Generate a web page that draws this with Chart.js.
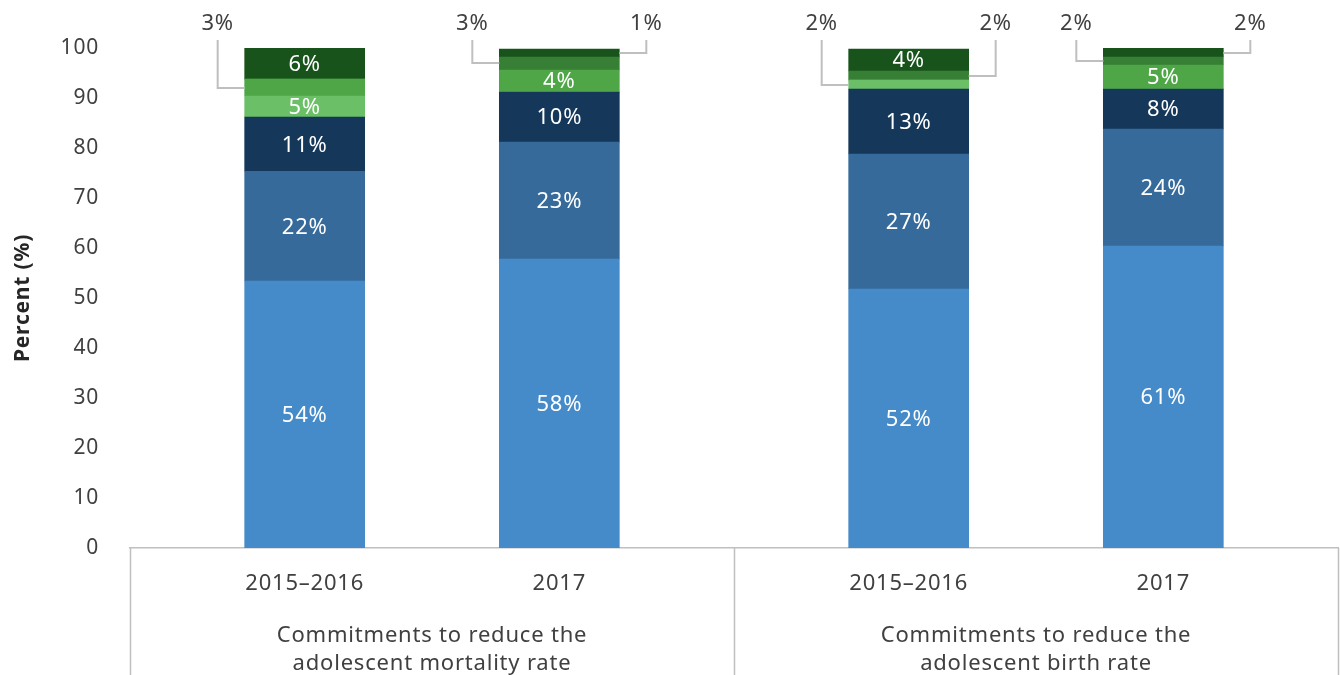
<!DOCTYPE html>
<html>
<head>
<meta charset="utf-8">
<title>Commitments by year</title>
<script src="https://cdn.jsdelivr.net/npm/chart.js@4.4.1/dist/chart.umd.min.js"></script>
<style>
  html, body { margin: 0; padding: 0; background: #fff; }
</style>
</head>
<body>
<canvas id="chart" width="1340" height="675"></canvas>
<script>
// categories
const groups = [
    ['Commitments to reduce the', 'adolescent mortality rate'],
    ['Commitments to reduce the', 'adolescent birth rate']
];
const years = ['2015–2016', '2017'];

// stacked shares (percent), bottom band first, one value per bar
const band1 = [53.4, 57.8, 51.8, 60.4];
const band2 = [21.9, 23.4, 27.0, 23.4];
const band3 = [10.9, 10.0, 13.0, 8.0];
const band4 = [4.2, 0, 1.8, 0];
const band5 = [3.4, 4.4, 0, 4.8];
const band6 = [0, 2.6, 1.8, 1.6];
const band7 = [6.2, 1.6, 4.4, 1.8];

// the rounded labels printed on the chart
const label1 = [54, 58, 52, 61];
const label2 = [22, 23, 27, 24];
const label3 = [11, 10, 13, 8];
const label4 = [5, null, 2, null];
const label5 = [3, 4, null, 5];
const label6 = [null, 3, 2, 2];
const label7 = [6, 1, 4, 2];

const yMin = 0;
const yMax = 100;
const yStep = 10;

const bands = [band1, band2, band3, band4, band5, band6, band7];
const bandLabels = [label1, label2, label3, label4, label5, label6, label7];
const colors = ['#468BC9', '#366A9B', '#14375A', '#6BBF67', '#4EA646', '#367F35', '#17531A'];

const FONT = '"Noto Sans", sans-serif';
const TEXT = '#404040';
const RULE = '#BFBFBF';

// bars sit at whole units, each group gets some padding on both sides
const EDGE = 0.686;
const GROUP_SPAN = 1 + 2 * EDGE;
const xPos = [];
const barNames = [];
groups.forEach((g, gi) => years.forEach((y, yi) => {
    xPos.push(gi * GROUP_SPAN + yi);
    barNames.push(y);
}));
const xMin = -EDGE;
const xMax = (groups.length - 1) * GROUP_SPAN + 1 + EDGE;
const groupCenters = groups.map((g, gi) => gi * GROUP_SPAN + 0.5);
const groupEdges = [xMin, ...groups.map((g, gi) => gi * GROUP_SPAN + 1 + EDGE)];

// the source font is wide and tracked, so loosen the canvas text a bit
const tracking = {
    id: 'tracking',
    beforeUpdate(chart) { chart.ctx.letterSpacing = '0.8px'; }
};

// percentage labels: inside big segments, callouts for thin ones
const segmentLabels = {
    id: 'segmentLabels',
    afterDatasetsDraw(chart) {
        const ctx = chart.ctx;
        ctx.save();
        ctx.font = '22px ' + FONT;
        ctx.textAlign = 'center';
        ctx.textBaseline = 'middle';
        xPos.forEach((_, bi) => {
            let callouts = 0;
            chart.data.datasets.forEach((ds, di) => {
                const v = ds.data[bi].y;
                const lbl = bandLabels[di][bi];
                if (!v || lbl === null) return;
                const el = chart.getDatasetMeta(di).data[bi];
                const midY = (el.y + el.base) / 2;
                const txt = lbl + '%';
                if (v >= 4) {
                    ctx.fillStyle = '#fff';
                    ctx.fillText(txt, el.x, midY + 1);
                    return;
                }
                const left = callouts++ === 0;
                const edgeX = left ? el.x - el.width / 2 : el.x + el.width / 2;
                const lx = left ? edgeX - 27 : edgeX + 27;
                ctx.strokeStyle = RULE;
                ctx.lineWidth = 2;
                ctx.beginPath();
                ctx.moveTo(edgeX, Math.round(midY));
                ctx.lineTo(lx, Math.round(midY));
                ctx.lineTo(lx, chart.chartArea.top - 8);
                ctx.stroke();
                ctx.fillStyle = TEXT;
                ctx.fillText(txt, lx, 24);
            });
        });
        ctx.restore();
    }
};

// vertical rules boxing the two groups under the axis
const groupRules = {
    id: 'groupRules',
    afterDraw(chart) {
        const { ctx, chartArea, scales } = chart;
        ctx.save();
        ctx.strokeStyle = RULE;
        ctx.lineWidth = 1.5;
        groupEdges.forEach(v => {
            const x = Math.min(Math.round(scales.x.getPixelForValue(v)), chart.width - 2) + 0.5;
            ctx.beginPath();
            ctx.moveTo(x, chartArea.bottom);
            ctx.lineTo(x, chart.height);
            ctx.stroke();
        });
        ctx.restore();
    }
};

new Chart(document.getElementById('chart'), {
    type: 'bar',
    data: {
        datasets: bands.map((vals, i) => ({
            label: 'Band ' + (i + 1),
            data: vals.map((v, j) => ({ x: xPos[j], y: v })),
            backgroundColor: colors[i],
            borderWidth: 0,
            barThickness: 120
        }))
    },
    options: {
        responsive: false,
        animation: false,
        layout: { padding: { top: 48, right: 2, left: 0, bottom: 0 } },
        plugins: {
            legend: { display: false },
            tooltip: { enabled: false }
        },
        scales: {
            x: {
                type: 'linear',
                min: xMin,
                max: xMax,
                offset: false,
                stacked: true,
                weight: 0,
                grid: { display: false, drawTicks: false },
                border: { display: true, color: RULE, width: 1.5 },
                afterBuildTicks: s => { s.ticks = xPos.map(v => ({ value: v })); },
                afterFit: s => { s.height = 62; },
                ticks: {
                    autoSkip: false,
                    maxRotation: 0,
                    padding: 23,
                    color: TEXT,
                    font: { family: FONT, size: 22 },
                    callback: (v, i) => barNames[i]
                }
            },
            groupAxis: {
                type: 'linear',
                position: 'bottom',
                min: xMin,
                max: xMax,
                offset: false,
                weight: 1,
                grid: { display: false, drawTicks: false },
                border: { display: false },
                afterBuildTicks: s => { s.ticks = groupCenters.map(v => ({ value: v })); },
                afterFit: s => { s.height = 65; },
                ticks: {
                    autoSkip: false,
                    maxRotation: 0,
                    padding: 12,
                    color: TEXT,
                    font: { family: FONT, size: 22, lineHeight: 1.27 },
                    callback: (v, i) => groups[i]
                }
            },
            y: {
                stacked: true,
                min: yMin,
                max: yMax,
                grid: { display: false, drawTicks: false },
                border: { display: false },
                afterFit: s => { s.width = 130; },
                ticks: {
                    stepSize: yStep,
                    padding: 31,
                    color: TEXT,
                    font: { family: FONT, size: 21 }
                },
                title: {
                    display: true,
                    text: 'Percent (%)',
                    color: '#262626',
                    font: { family: FONT, size: 21, weight: 'bold' },
                    padding: { top: 10, bottom: 0 }
                }
            }
        }
    },
    plugins: [tracking, segmentLabels, groupRules]
});
</script>
</body>
</html>
